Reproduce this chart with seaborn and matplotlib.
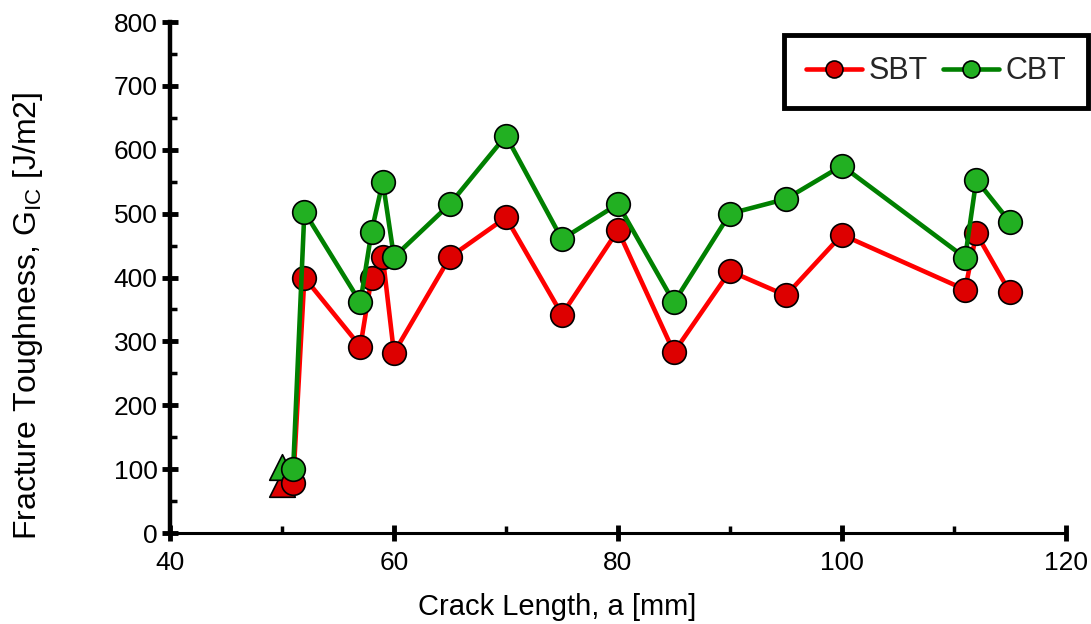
import matplotlib
matplotlib.use("Agg")
import matplotlib.pyplot as plt
import seaborn as sns
import pandas as pd
from matplotlib.ticker import MultipleLocator

# Data
crack_length = [51, 52, 57, 58, 59, 60, 65, 70, 75, 80, 85, 90, 95, 100, 111, 112, 115]
sbt = [78, 400, 292, 400, 432, 282, 432, 494, 342, 474, 283, 410, 372, 467, 381, 469, 377]
cbt = [100, 503, 361, 472, 550, 432, 515, 622, 460, 515, 361, 500, 523, 575, 431, 553, 487]
init_x = [50, 50]
init_sbt = [76]
init_cbt = [104]

sns.set_theme(style="white")
plt.rcParams['font.family'] = ['Liberation Sans', 'DejaVu Sans']
plt.rcParams['mathtext.fontset'] = 'custom'
plt.rcParams['mathtext.rm'] = 'Liberation Sans'

fig = plt.figure(figsize=(10.91, 6.24), dpi=100)
ax = fig.add_axes([0.1558, 0.1458, 0.8212, 0.8189])

df_s = pd.DataFrame({"a": crack_length, "G": sbt})
df_c = pd.DataFrame({"a": crack_length, "G": cbt})

# initiation triangles
sns.scatterplot(x=[init_x[0]], y=init_sbt, marker="^", s=340, color="#DD0000",
                edgecolor="black", linewidth=1.2, ax=ax, zorder=2, legend=False)
sns.scatterplot(x=[init_x[1]], y=init_cbt, marker="^", s=340, color="#22B022",
                edgecolor="black", linewidth=1.2, ax=ax, zorder=2, legend=False)

sns.lineplot(data=df_s, x="a", y="G", sort=False, color="#FF0000", linewidth=3.3,
             marker="o", markersize=17, markerfacecolor="#DD0000",
             markeredgecolor="black", markeredgewidth=1.2, ax=ax, label="SBT", zorder=3)
sns.lineplot(data=df_c, x="a", y="G", sort=False, color="#008000", linewidth=3.3,
             marker="o", markersize=17, markerfacecolor="#22B022",
             markeredgecolor="black", markeredgewidth=1.2, ax=ax, label="CBT", zorder=4)

ax.set_xlim(40, 120)
ax.set_ylim(0, 800)
ax.xaxis.set_major_locator(MultipleLocator(20))
ax.xaxis.set_minor_locator(MultipleLocator(10))
ax.yaxis.set_major_locator(MultipleLocator(100))
ax.yaxis.set_minor_locator(MultipleLocator(50))

for s in ["top", "right"]:
    ax.spines[s].set_visible(False)
ax.spines["left"].set_linewidth(3.2)
ax.spines["bottom"].set_linewidth(2.2)
ax.spines["left"].set_color("black")
ax.spines["bottom"].set_color("black")

ax.tick_params(axis="both", which="major", direction="inout", length=12, width=3.5,
               labelsize=19, color="black", labelcolor="black", pad=3)
ax.tick_params(axis="both", which="minor", direction="in", length=5, width=2.5, color="black")
ax.tick_params(axis="x", which="major", pad=7)
ax.tick_params(bottom=True, left=True, which="both")

ax.set_xlabel("Crack Length, a [mm]", fontsize=21, color="black")
ax.set_ylabel(r"Fracture Toughness, G$_{\mathregular{IC}}$ [J/m2]", fontsize=23,
              color="black")
ax.xaxis.set_label_coords(0.432, -0.118)
ax.yaxis.set_label_coords(-0.1395, 0.425)

leg = ax.legend(loc="upper right", bbox_to_anchor=(0.997, 0.944), bbox_transform=fig.transFigure,
                ncol=2, fontsize=22, frameon=True, fancybox=False, markerscale=0.72,
                handlelength=1.85, handletextpad=0.2, columnspacing=0.5,
                borderpad=0.7, borderaxespad=0, edgecolor="black")
leg.get_frame().set_linewidth(3.5)
leg.get_frame().set_alpha(1)

fig.savefig("out.png", dpi=100)
